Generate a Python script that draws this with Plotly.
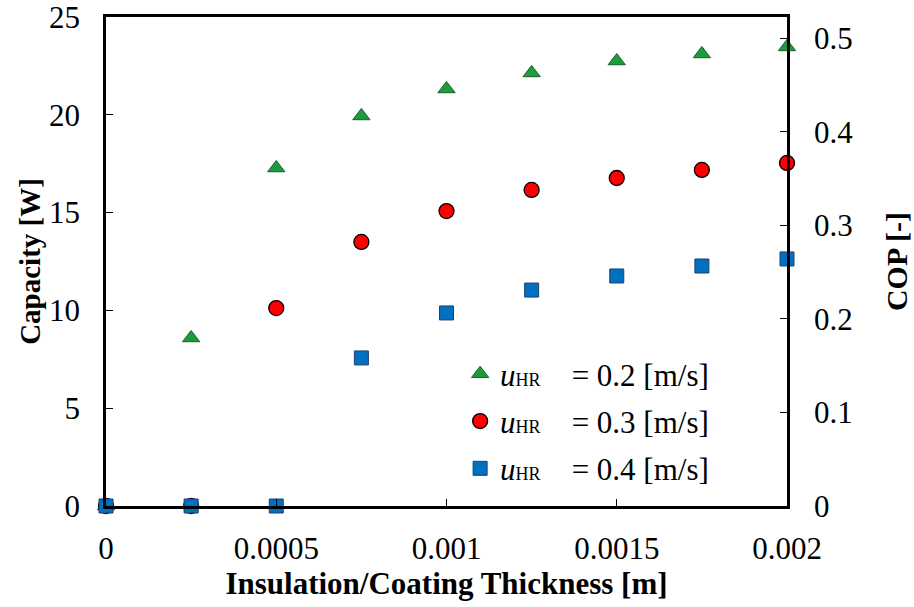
import plotly.graph_objects as go

thickness = [0, 0.00025, 0.0005, 0.00075, 0.001, 0.00125, 0.0015, 0.00175, 0.002]
cap_u02 = [0, 8.59, 17.28, 19.94, 21.32, 22.14, 22.75, 23.11, 23.47]
cap_u03 = [0, 0, 10.12, 13.5, 15.08, 16.16, 16.77, 17.18, 17.54]
cap_u04 = [0, 0, 0, 7.57, 9.87, 11.04, 11.76, 12.27, 12.63]

x_tickvals = [0, 0.0005, 0.001, 0.0015, 0.002]
x_ticktext = ["0", "0.0005", "0.001", "0.0015", "0.002"]
y_tickvals = [0, 5, 10, 15, 20, 25]
y2_tickvals = [0, 0.1, 0.2, 0.3, 0.4, 0.5]
y2_ticktext = ["0", "0.1", "0.2", "0.3", "0.4", "0.5"]

FONT = "Liberation Serif, Times New Roman, serif"
TICKSIZE = 31

def lbl(v):
    return ("<i>u</i><span style='font-size:18px'>HR</span>"
            "&nbsp;&nbsp;&nbsp; = " + v + " [m/s]")

fig = go.Figure()
fig.add_trace(go.Scatter(
    x=thickness, y=cap_u02, mode="markers", name=lbl("0.2"), legendgroup="a",
    marker=dict(symbol="triangle-up", size=15, color="#1e9b3c",
                line=dict(color="#17602a", width=1)),
    cliponaxis=False))
fig.add_trace(go.Scatter(
    x=thickness, y=cap_u03, mode="markers", name=lbl("0.3"), legendgroup="b",
    marker=dict(symbol="circle", size=15, color="#ff0000",
                line=dict(color="#000000", width=1.3)),
    cliponaxis=False))
fig.add_trace(go.Scatter(
    x=thickness, y=cap_u04, mode="markers", name=lbl("0.4"), legendgroup="c",
    marker=dict(symbol="square", size=14, color="#0070c0",
                line=dict(color="#1f3f73", width=1)),
    cliponaxis=False))
fig.add_trace(go.Scatter(x=[None], y=[None], yaxis="y2", showlegend=False,
                         hoverinfo="skip"))

axis_common = dict(showgrid=False, zeroline=False, showline=True,
                   linecolor="black", linewidth=2.5, ticks="inside",
                   ticklen=7, tickwidth=1.2, tickcolor="black",
                   automargin=False, ticklabeloverflow="allow",
                   tickfont=dict(size=TICKSIZE, family=FONT))

fig.update_layout(
    template="none",
    width=914, height=607,
    margin=dict(l=106, r=127, t=17, b=101),
    paper_bgcolor="white", plot_bgcolor="white",
    font=dict(family=FONT, size=TICKSIZE, color="black"),
    showlegend=True,
    legend=dict(x=0.52, y=0.325, xanchor="left", yanchor="top",
                bgcolor="rgba(0,0,0,0)", borderwidth=0,
                font=dict(size=31, family=FONT),
                itemwidth=30, tracegroupgap=4),
    xaxis=dict(range=[0, 0.002], tickvals=x_tickvals, ticktext=x_ticktext,
               mirror=True, ticklabelstandoff=13,
               title=dict(text="<b>Insulation/Coating Thickness [m]</b>",
                          font=dict(size=31), standoff=8),
               **axis_common),
    yaxis=dict(range=[0, 25], tickvals=y_tickvals, ticklabelstandoff=17,
               title=dict(text="<b>Capacity [W]</b>", font=dict(size=29),
                          standoff=0),
               **axis_common),
    yaxis2=dict(overlaying="y", side="right", range=[0, 0.5225],
                tickvals=y2_tickvals, ticktext=y2_ticktext, ticklabelstandoff=18,
                title=dict(text="<b>COP [-]</b>", font=dict(size=30),
                           standoff=34),
                **axis_common),
)

fig.write_html("out.html", config={"displayModeBar": False},
               post_script="document.body.style.margin='0';")
